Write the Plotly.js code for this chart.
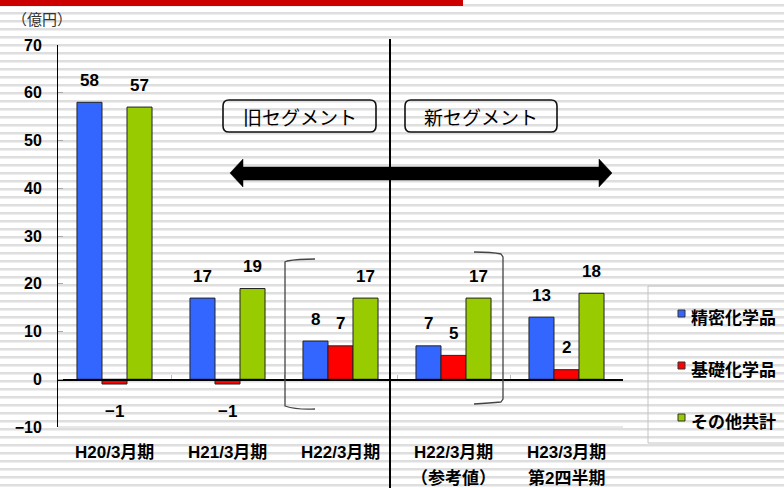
<!DOCTYPE html>
<html>
<head>
<meta charset="utf-8">
<script src="https://cdn.plot.ly/plotly-3.0.1.min.js"></script>
<style>
  html, body { margin: 0; padding: 0; }
  body {
    width: 784px; height: 488px; overflow: hidden;
    background: repeating-linear-gradient(180deg,
      #ffffff 0px, #ffffff 4px,
      #dedede 4px, #dedede 6px,
      #efefef 6px, #efefef 7px,
      #ffffff 7px, #ffffff 8px);
  }
  #chart { width: 784px; height: 488px; }
</style>
</head>
<body>
<div id="chart"></div>
<script>
// ---- data ----
const labelLine1 = ["H20/3月期", "H21/3月期", "H22/3月期", "H22/3月期", "H23/3月期"];
const labelLine2 = ["", "", "", "（参考値）", "第2四半期"];
const categories = labelLine1.map((a, i) => a + (labelLine2[i] ? " " + labelLine2[i] : ""));
const seriesNames = ["精密化学品", "基礎化学品", "その他共計"];
const fineChem  = [58, 17, 8, 7, 13];
const basicChem = [-1, -1, 7, 5, 2];
const otherChem = [57, 19, 17, 17, 18];
const seriesValues = [fineChem, basicChem, otherChem];
const yTicks = [-10, 0, 10, 20, 30, 40, 50, 60, 70];
const unitLabel = "（億円）";
const segmentOld = "旧セグメント";
const segmentNew = "新セグメント";

// ---- style ----
const colors = ["#3366ff", "#ff0000", "#99cc00"];
const numFont = "Liberation Sans, Arial, Noto Sans CJK JP, sans-serif";
const jpFont = "Liberation Sans, Noto Sans CJK JP, sans-serif";
const cjkFont = "Noto Sans CJK JP, sans-serif";
const L = 58, T = 45, W = 565, H = 382;
const X = px => (px - L) / W;
const Y = py => (T + H - py) / H;
const bargap = 0.336;
const barW = (1 - bargap) / 3;

const traces = seriesValues.map((vals, j) => ({
  type: "bar",
  name: seriesNames[j],
  x: categories,
  y: vals,
  marker: { color: colors[j], line: { color: "#222", width: 1 } },
  showlegend: false,
  hoverinfo: "none"
}));

const annotations = [];
// value labels
seriesValues.forEach((vals, j) => {
  vals.forEach((v, i) => {
    annotations.push({
      xref: "x", yref: "y", x: i + (j - 1) * barW, y: v,
      text: String(v < 0 ? "\u2212" + Math.abs(v) : v),
      showarrow: false, yanchor: "middle",
      yshift: v < 0 ? -27 : 22,
      font: { family: numFont, size: 17, color: "#000", weight: "bold" }
    });
  });
});
// category labels
labelLine1.forEach((t, i) => {
  annotations.push({
    xref: "x", yref: "paper", x: i, y: Y(452), text: t, showarrow: false,
    yanchor: "middle", font: { family: jpFont, size: 17, color: "#000", weight: "bold" }
  });
  if (labelLine2[i]) {
    annotations.push({
      xref: "x", yref: "paper", x: i, y: Y(478), text: labelLine2[i], showarrow: false,
      yanchor: "middle", font: { family: jpFont, size: 17, color: "#000", weight: "bold" }
    });
  }
});
// unit label
annotations.push({
  xref: "paper", yref: "paper", x: X(10), y: Y(19), xanchor: "left", yanchor: "middle",
  text: unitLabel, showarrow: false,
  font: { family: cjkFont, size: 15, color: "#333" }
});
// segment labels
annotations.push({
  xref: "paper", yref: "paper", x: X(300), y: Y(117), xanchor: "center", yanchor: "middle",
  text: segmentOld, showarrow: false,
  font: { family: cjkFont, size: 19, color: "#000" }
});
annotations.push({
  xref: "paper", yref: "paper", x: X(481), y: Y(117), xanchor: "center", yanchor: "middle",
  text: segmentNew, showarrow: false,
  font: { family: cjkFont, size: 19, color: "#000" }
});
// legend texts
const legendY = [316, 368, 420];
seriesNames.forEach((n, j) => {
  annotations.push({
    xref: "paper", yref: "paper", x: X(689), y: Y(legendY[j]), xanchor: "left", yanchor: "middle",
    text: n, showarrow: false,
    font: { family: cjkFont, size: 17, color: "#000", weight: "bold" }
  });
});

// ---- shapes ----
function pathPx(pts) {
  return pts.map(p => X(p[0]).toFixed(5) + "," + Y(p[1]).toFixed(5)).join(" ");
}
function roundRect(x0, y0, x1, y1, r) {
  return "M" + pathPx([[x0 + r, y0]]) + " L" + pathPx([[x1 - r, y0]]) +
    " Q" + pathPx([[x1, y0], [x1, y0 + r]]) + " L" + pathPx([[x1, y1 - r]]) +
    " Q" + pathPx([[x1, y1], [x1 - r, y1]]) + " L" + pathPx([[x0 + r, y1]]) +
    " Q" + pathPx([[x0, y1], [x0, y1 - r]]) + " L" + pathPx([[x0, y0 + r]]) +
    " Q" + pathPx([[x0, y0], [x0 + r, y0]]) + " Z";
}
function poly(pts) {
  return "M" + pts.map(p => pathPx([p])).join(" L") + " Z";
}
const shapes = [
  // red band at top
  { type: "rect", xref: "paper", yref: "paper", x0: X(0), x1: X(463), y0: Y(6), y1: Y(-2),
    fillcolor: "#cc0000", line: { width: 0 } },
  // plot bottom light line
  { type: "line", xref: "paper", yref: "paper", x0: 0, x1: 1, y0: 0, y1: 0,
    line: { color: "#cfcfcf", width: 1 }, layer: "below" },
  // vertical separator
  { type: "line", xref: "paper", yref: "paper", x0: X(390), x1: X(390), y0: Y(39), y1: Y(495),
    line: { color: "#000", width: 2 } },
  // segment boxes
  { type: "path", xref: "paper", yref: "paper", path: roundRect(223, 100, 376, 132, 6),
    line: { color: "#111", width: 1.6 }, fillcolor: "rgba(0,0,0,0)" },
  { type: "path", xref: "paper", yref: "paper", path: roundRect(405, 100, 557, 132, 6),
    line: { color: "#111", width: 1.6 }, fillcolor: "rgba(0,0,0,0)" },
  // double arrow
  { type: "path", xref: "paper", yref: "paper",
    path: poly([[230, 173], [243, 159], [243, 167], [599, 167], [599, 159], [612, 173],
                [599, 187], [599, 180], [243, 180], [243, 187]]),
    fillcolor: "#000", line: { color: "#000", width: 0.5 } },
  // brackets
  { type: "path", xref: "paper", yref: "paper",
    path: "M" + pathPx([[315, 259]]) + " Q" + pathPx([[298, 259], [287, 261]]) +
          " L" + pathPx([[285, 262]]) + " L" + pathPx([[285, 406]]) +
          " Q" + pathPx([[297, 410], [315, 409]]),
    line: { color: "#444", width: 1.3 } },
  { type: "path", xref: "paper", yref: "paper",
    path: "M" + pathPx([[474, 252]]) + " Q" + pathPx([[492, 252], [501, 254]]) +
          " L" + pathPx([[503, 257]]) + " L" + pathPx([[503, 399]]) +
          " L" + pathPx([[501, 402]]) + " Q" + pathPx([[490, 403], [474, 404]]),
    line: { color: "#444", width: 1.3 } },
  // legend border
  { type: "rect", xref: "paper", yref: "paper", x0: X(648), x1: X(792), y0: Y(443), y1: Y(286),
    line: { color: "#c4c4c4", width: 1 }, fillcolor: "rgba(0,0,0,0)" }
];
legendY.forEach((yy, j) => {
  shapes.push({ type: "rect", xref: "paper", yref: "paper",
    x0: X(678), x1: X(685), y0: Y(yy + 1), y1: Y(yy - 6),
    fillcolor: colors[j], line: { color: "#333", width: 1 } });
});

const layout = {
  width: 784, height: 488,
  margin: { l: L, r: 784 - L - W, t: T, b: 488 - T - H, pad: 0 },
  paper_bgcolor: "rgba(0,0,0,0)",
  plot_bgcolor: "rgba(0,0,0,0)",
  barmode: "group",
  bargap: bargap,
  bargroupgap: 0,
  showlegend: false,
  xaxis: {
    type: "category",
    categoryarray: categories,
    range: [-0.5, 4.5],
    anchor: "free", position: 10 / 80,
    showline: true, linecolor: "#000", linewidth: 1.5,
    ticks: "inside", tickson: "boundaries", ticklen: 4, tickcolor: "#bbb",
    showticklabels: false, showgrid: false, zeroline: false, fixedrange: true
  },
  yaxis: {
    range: [-10, 70],
    tickvals: yTicks,
    ticktext: yTicks.map(v => v < 0 ? "\u2212" + Math.abs(v) : String(v)),
    showline: true, linecolor: "#000", linewidth: 1,
    ticks: "inside", ticklen: 5, tickcolor: "#aaa",
    ticklabelstandoff: 12,
    tickfont: { family: numFont, size: 16, color: "#000", weight: "bold" },
    showgrid: false, zeroline: false, fixedrange: true
  },
  annotations: annotations,
  shapes: shapes
};

Plotly.newPlot("chart", traces, layout, { staticPlot: true, displayModeBar: false });
</script>
</body>
</html>
